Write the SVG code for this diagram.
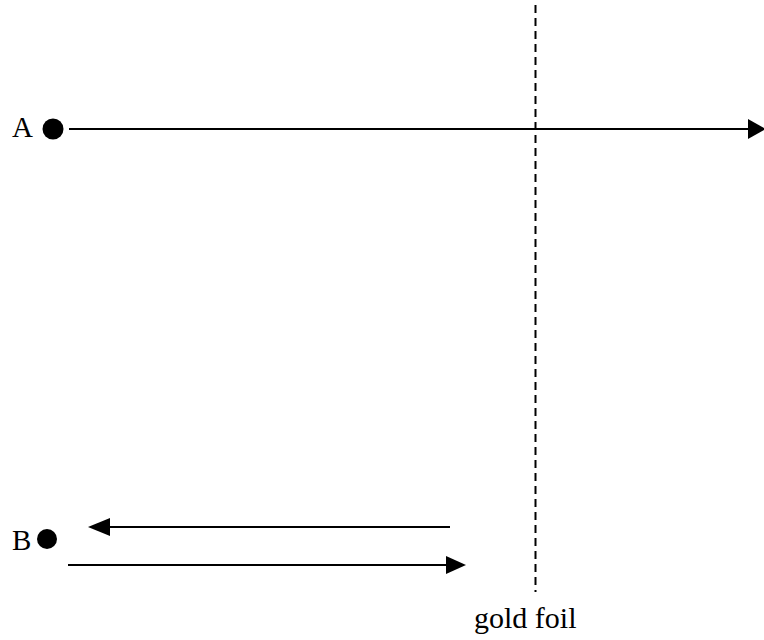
<svg xmlns="http://www.w3.org/2000/svg" width="764" height="640" viewBox="0 0 764 640">
<style>
.ln{stroke:#000;stroke-width:2;fill:none}
.foil{stroke:#000;stroke-width:2;stroke-dasharray:8,5;fill:none}
</style>
<rect width="764" height="640" fill="#fff"/>
<g id="foil">
<line class="foil" x1="535.5" y1="5" x2="535.5" y2="592"/>
<text x="474" y="628" font-family="'Liberation Serif', 'Times New Roman', serif" font-size="30" fill="#000">gold foil</text>
</g>
<g id="nodeA">
<text x="12" y="137" font-family="'Liberation Serif', 'Times New Roman', serif" font-size="29" fill="#000">A</text>
<circle cx="53" cy="129" r="10.5" fill="#000"/>
</g>
<g id="nodeB">
<text x="12" y="550" font-family="'Liberation Serif', 'Times New Roman', serif" font-size="29" fill="#000">B</text>
<circle cx="47" cy="539" r="10" fill="#000"/>
</g>
<g id="connectors">
<line class="ln" x1="69" y1="129" x2="750" y2="129"/>
<polygon points="748,119 766,129 748,139" fill="#000"/>
<line class="ln" x1="450" y1="527" x2="108" y2="527"/>
<polygon points="110,518 88,527 110,536" fill="#000"/>
<line class="ln" x1="68" y1="565" x2="448" y2="565"/>
<polygon points="446,556 466,565 446,574" fill="#000"/>
</g>
</svg>
